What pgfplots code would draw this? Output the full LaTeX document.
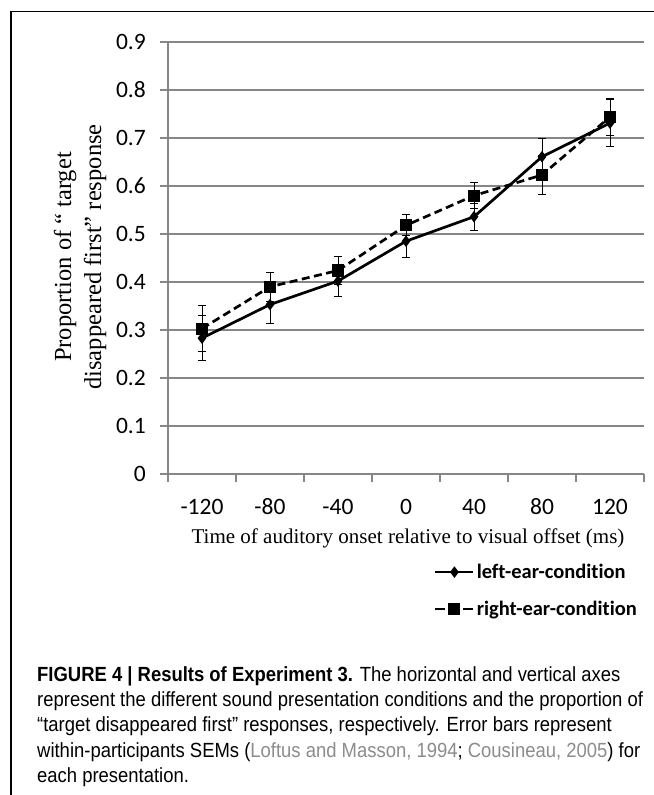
\documentclass[border=0pt]{standalone}
\usepackage{pgfplots}
\pgfplotsset{compat=1.18}
\usepackage{fontspec}
\setmainfont{Liberation Sans}
\newfontfamily\capfont[FakeStretch=0.9]{Liberation Sans}
\newfontfamily\calibri[Ligatures=NoCommon]{Carlito}
\newfontfamily\timesf{Liberation Serif}
\definecolor{gridgray}{RGB}{134,134,134}
\definecolor{citegray}{RGB}{140,140,140}

\pgfplotstableread{
x y e
0 0.283 0.047
1 0.353 0.040
2 0.402 0.033
3 0.485 0.034
4 0.536 0.028
5 0.661 0.038
6 0.731 0.049
}\lefttab
\pgfplotstableread{
x y e
0 0.303 0.048
1 0.390 0.030
2 0.424 0.030
3 0.518 0.022
4 0.580 0.027
5 0.623 0.040
6 0.744 0.039
}\righttab

\begin{document}
\begin{tikzpicture}
\useasboundingbox (0,0) rectangle (654bp,795bp);
\fill[white] (0,0) rectangle (654bp,795bp);
\draw[line width=1.2bp] (11bp,0) -- (11bp,783.5bp) -- (654bp,783.5bp);
\begin{axis}[
  at={(168bp,321bp)}, anchor=south west,
  scale only axis, width=476bp, height=432bp,
  xmin=-0.5, xmax=6.5, ymin=0, ymax=0.9,
  axis x line=bottom, axis y line=left,
  axis line style={-, gridgray, line width=1.3bp},
  clip=false,
  xtick={-0.5,0.5,1.5,2.5,3.5,4.5,5.5,6.5},
  xticklabels={},
  extra x ticks={0,1,2,3,4,5,6},
  extra x tick labels={-120,-80,-40,0,40,80,120},
  extra x tick style={major tick length=0pt, grid=none},
  ytick={0,0.1,0.2,0.3,0.4,0.5,0.6,0.7,0.8,0.9},
  yticklabels={0,0.1,0.2,0.3,0.4,0.5,0.6,0.7,0.8,0.9},
  ymajorgrids,
  major grid style={gridgray, line width=1.3bp},
  tick align=outside,
  major tick length=8bp,
  tick style={gridgray, line width=1.3bp},
  xtick pos=bottom, ytick pos=left,
  yticklabel style={font=\calibri\fontsize{23.5bp}{23.5bp}\selectfont, anchor=east, inner sep=0pt, xshift=-14bp},
  xticklabel style={font=\calibri\fontsize{23.5bp}{23.5bp}\selectfont, anchor=base, inner sep=0pt, yshift=-41bp},
  legend style={at={(1,0)}, anchor=north east, yshift=-88bp, xshift=-5bp, draw=none, fill=none,
    font=\calibri\bfseries\fontsize{20.5bp}{20.5bp}\selectfont, row sep=17bp, inner sep=0pt,
    cells={anchor=west}},
]
\addplot[black, line width=2.7bp, mark=diamond*, mark size=3.6bp, mark options={solid},
  legend image code/.code={\draw[mark repeat=2, mark phase=2] plot coordinates {(0bp,0bp) (19bp,0bp) (38bp,0bp)};},
  error bars/.cd, y dir=both, y explicit,
  error bar style={black, line width=1bp, solid},
  error mark options={rotate=90, mark size=3.8bp, line width=1bp, black}]
  table[x=x, y=y, y error=e] {\lefttab};
\addlegendentry{left-ear-condition}
\addplot[black, line width=2.7bp, dash pattern=on 8bp off 4.5bp, mark=square*, mark size=4.7bp, mark options={solid},
  legend image code/.code={\draw[dash pattern=on 10bp off 4bp, mark repeat=2, mark phase=2] plot coordinates {(0bp,0bp) (19bp,0bp) (38bp,0bp)};},
  error bars/.cd, y dir=both, y explicit,
  error bar style={black, line width=1bp, solid},
  error mark options={rotate=90, mark size=3.8bp, line width=1bp, black}]
  table[x=x, y=y, y error=e] {\righttab};
\addlegendentry{right-ear-condition}
\end{axis}
\node[font=\timesf\fontsize{21bp}{21bp}\selectfont, anchor=base] at (408bp,251bp) {Time of auditory onset relative to visual offset (ms)};
\node[font=\timesf\fontsize{24.5bp}{30bp}\selectfont, rotate=90, align=center] at (80bp,538bp) {Proportion of “ target\\disappeared first” response};
\begin{scope}[every node/.style={anchor=base west, inner sep=0pt, font=\capfont\fontsize{20.5bp}{20.5bp}\selectfont}]
\node at (37bp,113bp) {\textbf{FIGURE 4 | Results of Experiment 3.} The horizontal and vertical axes};
\node at (37bp,88bp) {represent the different sound presentation conditions and the proportion of};
\node at (37bp,63bp) {“target disappeared first” responses, respectively. Error bars represent};
\node at (37bp,38bp) {within-participants SEMs ({\color{citegray}Loftus and Masson, 1994}; {\color{citegray}Cousineau, 2005}) for};
\node at (37bp,13bp) {each presentation.};
\end{scope}
\end{tikzpicture}
\end{document}
